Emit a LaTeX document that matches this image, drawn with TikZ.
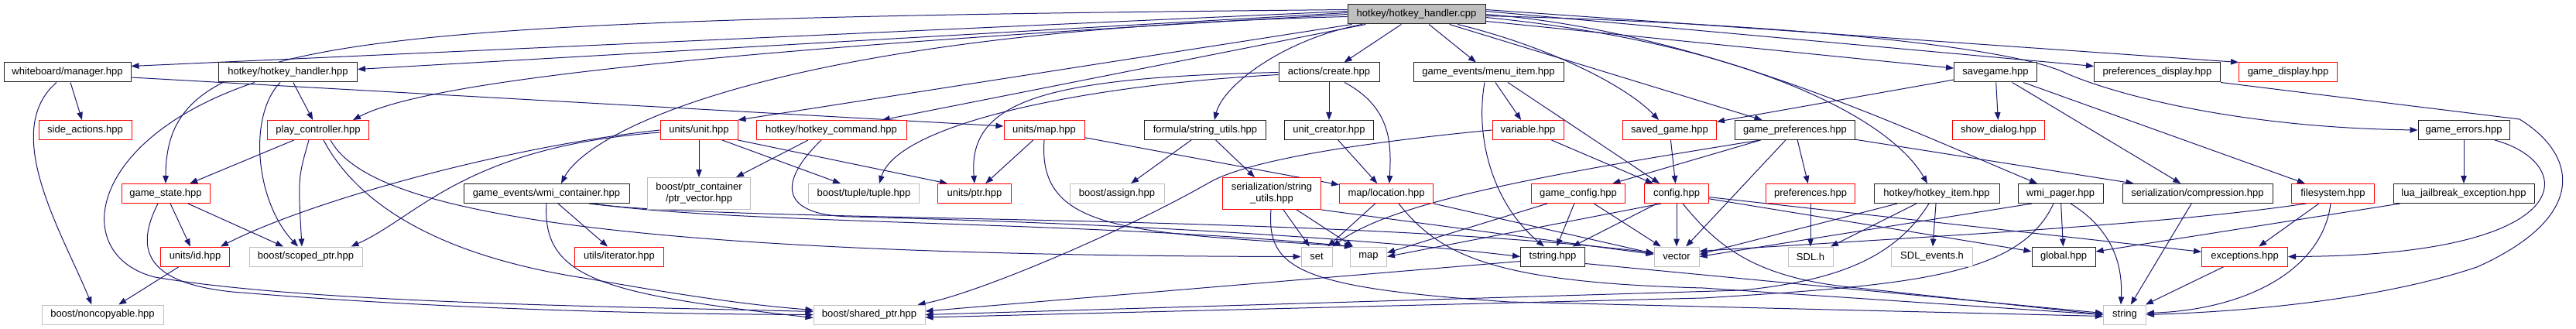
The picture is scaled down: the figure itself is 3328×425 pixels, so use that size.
\documentclass[tikz,border=0pt]{standalone}
\usepackage{fontspec}
\setmainfont{Liberation Sans}
\usetikzlibrary{arrows.meta,backgrounds}
\definecolor{edgec}{HTML}{191970}
\definecolor{grayb}{HTML}{BFBFBF}
\definecolor{nodeblack}{HTML}{202020}
\newcommand\dxfont{\fontsize{13}{15}\selectfont}
\tikzset{
  nb/.style={draw=nodeblack, fill=white, line width=1pt, minimum height=25pt, inner sep=0pt, font=\dxfont, text=black, align=center},
  nr/.style={nb, draw=red},
  ng/.style={nb, draw=grayb},
  nroot/.style={nb, fill=grayb},
  inc/.style={draw=edgec, line width=1pt, -{Triangle[length=10pt,width=7.5pt]}},
}
\begin{document}
\begin{tikzpicture}[x=1pt,y=-1pt]
\useasboundingbox (0,0) rectangle (3328,425);
% row 0
\node[nroot, minimum width=178pt] (root) at (1830,18.5) {hotkey/hotkey\_handler.cpp};
% row 1
\node[nb, minimum width=164pt] (wb) at (87,93.5) {whiteboard/manager.hpp};
\node[nb, minimum width=179pt] (hh) at (372,93.5) {hotkey/hotkey\_handler.hpp};
\node[nb, minimum width=130pt] (ac) at (1717,93.5) {actions/create.hpp};
\node[nb, minimum width=194pt] (mi) at (1923,93.5) {game\_events/menu\_item.hpp};
\node[nb, minimum width=107pt] (svg) at (2578,93.5) {savegame.hpp};
\node[nb, minimum width=163pt] (pd) at (2787,93.5) {preferences\_display.hpp};
\node[nr, minimum width=127pt] (gd) at (2956,93.5) {game\_display.hpp};
% row 2
\node[nr, minimum width=120pt] (sa) at (110,168) {side\_actions.hpp};
\node[nr, minimum width=131pt] (pc) at (411,168) {play\_controller.hpp};
\node[nr, minimum width=100pt] (unit) at (903,168) {units/unit.hpp};
\node[nr, minimum width=194pt] (hc) at (1074,168) {hotkey/hotkey\_command.hpp};
\node[nr, minimum width=104pt] (umap) at (1349,168) {units/map.hpp};
\node[nb, minimum width=157pt] (fsu) at (1557,168) {formula/string\_utils.hpp};
\node[nb, minimum width=115pt] (uc) at (1717,168) {unit\_creator.hpp};
\node[nr, minimum width=92pt] (var) at (1974,168) {variable.hpp};
\node[nr, minimum width=121pt] (sg) at (2157,168) {saved\_game.hpp};
\node[nb, minimum width=155pt] (gp) at (2319,168) {game\_preferences.hpp};
\node[nr, minimum width=119pt] (sd) at (2582,168) {show\_dialog.hpp};
\node[nb, minimum width=118pt] (ge) at (3183,168) {game\_errors.hpp};
% row 3
\node[nr, minimum width=114pt] (gs) at (214,250) {game\_state.hpp};
\node[nb, minimum width=214pt] (wmi) at (706,250) {game\_events/wmi\_container.hpp};
\node[ng, minimum width=133pt, minimum height=41pt] (pv) at (903,250) {boost/ptr\_container\\/ptr\_vector.hpp};
\node[ng, minimum width=143pt] (tup) at (1116,250) {boost/tuple/tuple.hpp};
\node[nr, minimum width=95pt] (uptr) at (1259,250) {units/ptr.hpp};
\node[ng, minimum width=122pt] (ass) at (1443,250) {boost/assign.hpp};
\node[nr, minimum width=127pt, minimum height=41pt] (ssu) at (1643,250) {serialization/string\\\_utils.hpp};
\node[nr, minimum width=121pt] (ml) at (1791,250) {map/location.hpp};
\node[nr, minimum width=121pt] (gc) at (2039,250) {game\_config.hpp};
\node[nr, minimum width=83pt] (cfg) at (2166,250) {config.hpp};
\node[nr, minimum width=115pt] (pref) at (2339,250) {preferences.hpp};
\node[nb, minimum width=162pt] (hi) at (2502,250) {hotkey/hotkey\_item.hpp};
\node[nb, minimum width=110pt] (wp) at (2662,250) {wmi\_pager.hpp};
\node[nb, minimum width=194pt] (comp) at (2839,250) {serialization/compression.hpp};
\node[nr, minimum width=107pt] (fs) at (3014,250) {filesystem.hpp};
\node[nb, minimum width=182pt] (lj) at (3183,250) {lua\_jailbreak\_exception.hpp};
% row 4
\node[nr, minimum width=89pt] (uid) at (252,331.5) {units/id.hpp};
\node[ng, minimum width=146pt] (sp) at (395,331.5) {boost/scoped\_ptr.hpp};
\node[nr, minimum width=115pt] (ui) at (800,331.5) {utils/iterator.hpp};
\node[ng, minimum width=40pt] (nset) at (1701,331.5) {set};
\node[ng, minimum width=47pt] (nmap) at (1768,331.5) {map};
\node[nb, minimum width=83pt] (ts) at (2006,331.5) {tstring.hpp};
\node[ng, minimum width=58pt] (vec) at (2166,331.5) {vector};
\node[ng, minimum width=58pt] (sdl) at (2339,331.5) {SDL.h};
\node[ng, minimum width=105pt] (sde) at (2496,331.5) {SDL\_events.h};
\node[nb, minimum width=82pt] (glob) at (2666,331.5) {global.hpp};
\node[nr, minimum width=111pt] (exc) at (2900,331.5) {exceptions.hpp};
% row 5
\node[ng, minimum width=157pt] (nc) at (132.5,406.5) {boost/noncopyable.hpp};
\node[ng, minimum width=144pt] (shp) at (1123,406.5) {boost/shared\_ptr.hpp};
\node[ng, minimum width=55pt] (nstr) at (2745,406.5) {string};

\begin{pgfonlayer}{background}
\fill[white] (0,0) rectangle (3328,425);
% root
\draw[inc] ([yshift=4pt]root.west) -- ([yshift=8pt]wb.east);
\draw[inc] ([yshift=2pt]root.west) -- ([yshift=4pt]hh.east);
\draw[inc] (root.west) .. controls (1000,60) and (560,100) .. ([xshift=45pt]pc.north);
\draw[inc] ([yshift=6pt]root.west) .. controls (400,25) and (215,50) .. (gs.north);
\draw[inc] (root) -- (unit.north east);
\draw[inc] (root) -- (hc);
\draw[inc] ([yshift=-3pt]root.west) .. controls (1000,40) and (760,170) .. ([xshift=19pt]wmi.north);
\draw[inc] (root) .. controls (1660,50) and (1580,110) .. ([xshift=12pt]fsu.north);
\draw[inc] (root) -- (ac);
\draw[inc] (root) -- (mi);
\draw[inc] (root) .. controls (2000,60) and (2100,110) .. ([xshift=-14pt]sg.north);
\draw[inc] (root) -- (gp);
\draw[inc] ([yshift=-4pt]root.east) .. controls (2250,55) and (2440,150) .. ([xshift=-12pt]hi.north);
\draw[inc] (root.east) .. controls (2200,40) and (2470,170) .. ([xshift=-30pt]wp.north);
\draw[inc] (root) -- (svg);
\draw[inc] ([yshift=4pt]root.east) -- ([yshift=8pt]pd.west);
\draw[inc] ([yshift=6pt]root.east) -- (gd.north west);
\draw[inc] ([yshift=-2pt]root.east) .. controls (2300,30) and (2600,60) .. (2670,95) .. controls (2740,125) and (2900,165) .. (ge.west);
% whiteboard
\draw[inc] (wb) -- (sa);
\draw[inc] ([xshift=-14pt]wb.south) .. controls (0,170) and (80,300) .. ([xshift=-14pt]nc.north);
\draw[inc] ([yshift=-6.5pt]wb.east) -- ([yshift=5pt]umap.west);
% hotkey_handler.hpp
\draw[inc] (hh) -- (pc);
\draw[inc] ([xshift=-10pt]hh.south) .. controls (320,150) and (330,260) .. ([xshift=-10pt]sp.north);
\draw[inc] ([xshift=-43pt]hh.south) .. controls (110,180) and (90,330) .. (200,358) .. controls (400,392) and (800,396) .. ([yshift=4pt]shp.west);
% play_controller
\draw[inc] (pc) -- (gs);
\draw[inc] ([xshift=-12pt]pc.south) .. controls (385,230) .. ([xshift=-5pt]sp.north);
\draw[inc] ([xshift=16pt]pc.south) .. controls (470,260) and (700,330) .. (nset.west);
\draw[inc] ([xshift=7pt]pc.south) .. controls (460,260) and (560,330) .. (760,360) .. controls (900,385) and (980,395) .. ([yshift=6pt]shp.west);
% game_state
\draw[inc] (gs) -- (uid);
\draw[inc] (gs) -- (sp);
\draw[inc] ([xshift=-10pt]gs.south) .. controls (175,320) and (185,365) .. (300,377) .. controls (600,402) and (900,406) .. (shp.west);
\draw[inc] (uid) -- (nc);
% units/unit
\draw[inc] (unit.west) .. controls (650,190) and (400,260) .. ([xshift=-12pt]uid.north east);
\draw[inc] ([yshift=-3pt]unit.west) .. controls (600,190) and (540,280) .. ([xshift=-15pt]sp.north east);
\draw[inc] (unit) -- (pv);
\draw[inc] ([xshift=30pt]unit.south) -- ([xshift=-30pt]tup.north);
\draw[inc] (unit.south east) -- ([xshift=-35pt]uptr.north);
% hotkey_command
\draw[inc] ([xshift=-30pt]hc.south) -- ([xshift=48pt]pv.north);
\draw[inc] ([xshift=-13pt]hc.south) .. controls (1010,230) and (1000,278) .. (1100,280) .. controls (1500,290) and (1800,312) .. (ts.west);
% wmi_container
\draw[inc] (wmi) -- (ui);
\draw[inc] (wmi.south) .. controls (700,360) and (780,380) .. ([yshift=-4pt]shp.west);
\draw[inc] ([xshift=60pt]wmi.south) .. controls (950,290) and (1400,285) .. ([xshift=3pt]nmap.north west);
\draw[inc] ([xshift=55pt]wmi.south) .. controls (950,288) and (1700,275) .. ([yshift=5pt]vec.west);
% units/map
\draw[inc] (umap) -- (uptr);
\draw[inc] (umap) -- (ml);
\draw[inc] (umap.south) .. controls (1340,300) and (1460,300) .. ([xshift=3pt]nmap.north west);
% actions/create
\draw[inc] (ac) -- (uc);
\draw[inc] ([xshift=20pt]ac.south) .. controls (1800,140) and (1797,190) .. ([xshift=4pt]ml.north);
\draw[inc] (ac.west) .. controls (1350,100) and (1250,130) .. (uptr.north);
\draw[inc] ([yshift=-3pt]ac.west) .. controls (1400,110) and (1160,160) .. ([xshift=20pt]tup.north);
\draw[inc] (uc) -- (ml);
\draw[inc] (fsu) -- (ass);
\draw[inc] (fsu) -- (ssu);
% menu_item
\draw[inc] (mi) -- (var);
\draw[inc] ([xshift=-5pt]mi.south) .. controls (1905,180) and (1930,265) .. ([xshift=-11pt]ts.north);
\draw[inc] ([xshift=25pt]mi.south) -- ([xshift=-22pt]cfg.north);
% variable
\draw[inc] (var) -- (cfg);
\draw[inc] (var.west) .. controls (1750,185) and (1610,208) .. (1562,236) .. controls (1450,300) and (1260,380) .. ([xshift=-10pt]shp.north east);
\draw[inc] (sg) -- (cfg);
% game_preferences
\draw[inc] (gp) -- (gc);
\draw[inc] ([xshift=-45pt]gp.south) .. controls (2000,225) and (1800,260) .. (nset.north east);
\draw[inc] (gp) -- (vec);
\draw[inc] (gp) -- (pref);
\draw[inc] (gp) -- (comp);
% savegame
\draw[inc] (svg) -- (sg);
\draw[inc] (svg) -- (sd);
\draw[inc] (svg) -- (fs);
\draw[inc] (svg) -- (comp);
% preferences_display
\draw[inc] (pd.south east) -- (3255,154) .. controls (3330,200) and (3345,280) .. (3200,345) .. controls (3050,395) and (2850,404) .. (nstr.east);
% game_errors
\draw[inc] (ge) -- (lj);
\draw[inc] ([xshift=40pt]ge.south) .. controls (3330,210) and (3340,330) .. (exc.east);
\draw[inc] (lj) -- (glob);
% filesystem
\draw[inc] ([xshift=-35pt]fs.south) .. controls (2800,290) and (2500,305) .. ([yshift=7pt]vec.east);
\draw[inc] (fs) -- (exc);
\draw[inc] ([xshift=-3pt]fs.south) .. controls (3000,350) and (2900,400) .. ([yshift=2pt]nstr.east);
\draw[inc] (exc) -- (nstr);
\draw[inc] (comp) -- (nstr);
% tstring
\draw[inc] ([yshift=-6pt]ts.west) -- ([yshift=4.5pt]shp.east);
\draw[inc] ([yshift=-9pt]ts.east) -- ([yshift=2pt]nstr.west);
% game_config
\draw[inc] (gc) -- (ts);
\draw[inc] (gc) -- (vec);
\draw[inc] ([xshift=-40pt]gc.south) -- ([yshift=5pt]nmap.east);
% config
\draw[inc] ([xshift=-20pt]cfg.south) -- (nmap.east);
\draw[inc] (cfg) -- (ts);
\draw[inc] (cfg) -- (vec);
\draw[inc] ([xshift=8pt]cfg.south) .. controls (2220,320) and (2270,360) .. (2400,372) -- (nstr.west);
\draw[inc] (cfg) -- (glob);
\draw[inc] (cfg) -- (exc);
\draw[inc] (pref) -- (sdl);
% hotkey_item
\draw[inc] (hi) -- ([yshift=3pt]vec.east);
\draw[inc] (hi) -- (sdl);
\draw[inc] ([xshift=-10pt]hi.south) .. controls (2450,330) and (2380,362) .. (2250,375) -- (shp.east);
\draw[inc] (hi) -- (sde);
% wmi_pager
\draw[inc] (wp) -- (glob);
\draw[inc] ([xshift=13pt]wp.south) .. controls (2735,300) and (2742,350) .. ([xshift=-5pt]nstr.north);
\draw[inc] ([xshift=-9pt]wp.south) .. controls (2610,355) and (2480,368) .. (2200,385) -- ([yshift=-3.5pt]shp.east);
\draw[inc] ([xshift=-37pt]wp.south) -- (vec.east);
% serialization/string_utils
\draw[inc] (ssu) -- (nset);
\draw[inc] (ssu) -- (nmap);
\draw[inc] (ssu.south east) -- ([yshift=3pt]vec.west);
\draw[inc] ([xshift=-1pt]ssu.south) .. controls (1636,348) and (1680,372) .. (1950,390) -- ([yshift=-2pt]nstr.west);
% map/location
\draw[inc] (ml) -- (nset);
\draw[inc] (ml.south east) -- ([yshift=4pt]vec.west);
\draw[inc] ([xshift=16pt]ml.south) .. controls (1860,330) and (1930,365) .. (2200,372) -- (nstr.west);
\end{pgfonlayer}
\end{tikzpicture}
\end{document}
